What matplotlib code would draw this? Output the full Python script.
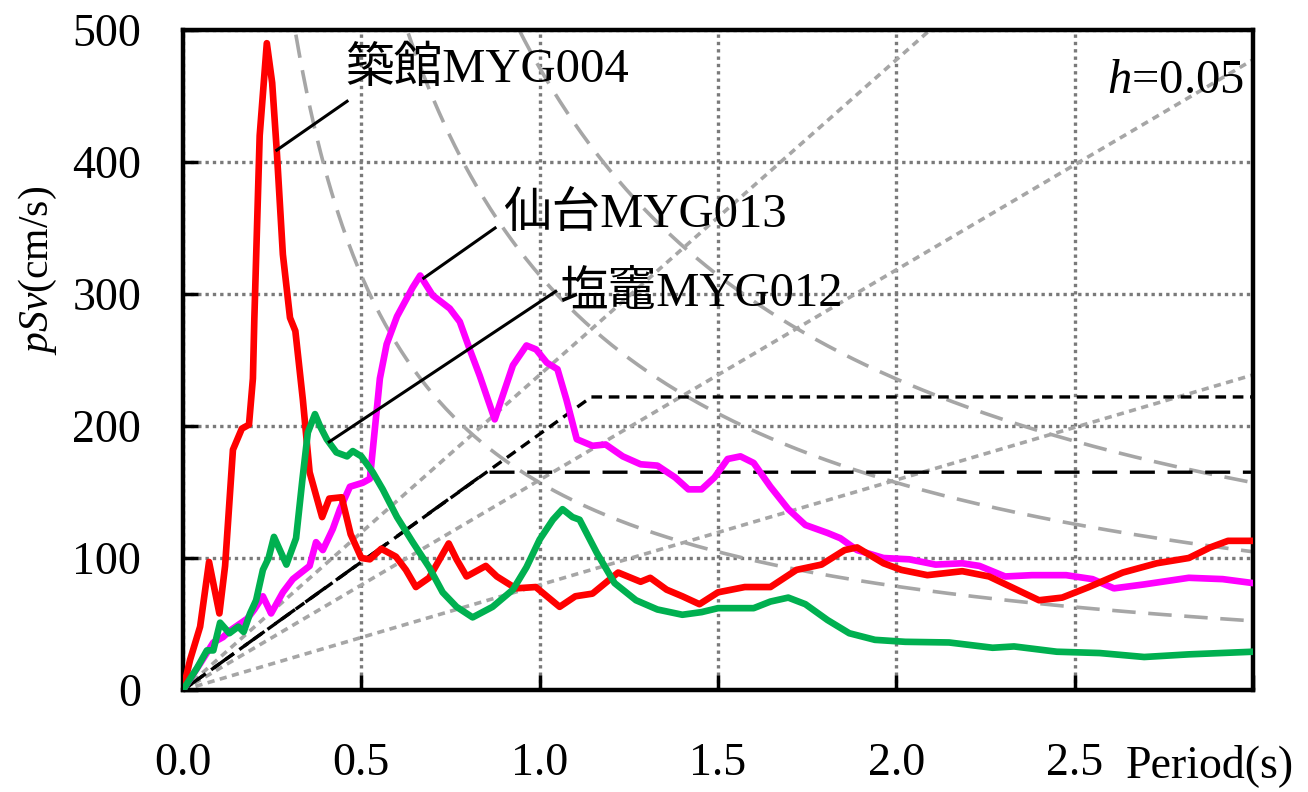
import numpy as np
import matplotlib
matplotlib.use("Agg")
import matplotlib.pyplot as plt
import matplotlib.transforms as mtransforms

plt.rcParams['font.family'] = ['Liberation Serif', 'Noto Sans CJK JP']
plt.rcParams['mathtext.fontset'] = 'custom'
plt.rcParams['mathtext.it'] = 'Liberation Serif:italic'
plt.rcParams['mathtext.rm'] = 'Liberation Serif'

# ---------------- data ----------------
red_T = [0.0, 0.02, 0.048, 0.073, 0.102, 0.118, 0.14, 0.165, 0.185, 0.196, 0.2, 0.215, 0.235,
         0.25, 0.263, 0.28, 0.30, 0.315, 0.336, 0.355, 0.39, 0.41, 0.445, 0.47, 0.5, 0.524,
         0.556, 0.597, 0.625, 0.653, 0.69, 0.745, 0.767, 0.795, 0.849, 0.88, 0.933, 0.989,
         1.056, 1.1, 1.148, 1.22, 1.283, 1.31, 1.356, 1.40, 1.448, 1.50, 1.575, 1.647, 1.72,
         1.79, 1.855, 1.89, 1.964, 2.014, 2.087, 2.185, 2.26, 2.33, 2.40, 2.465, 2.54, 2.635,
         2.73, 2.82, 2.88, 2.93, 3.0]
red_v = [0, 23, 48, 97, 58, 94, 182, 198, 201, 236, 281, 420, 490,
         460, 408, 330, 282, 272, 220, 165, 131, 145, 146, 118, 100, 99,
         107, 101, 91, 78, 85, 111, 99, 86, 94, 86, 77, 78,
         63, 71, 73, 89, 82, 85, 76, 71, 65, 74, 78, 78, 91,
         95, 106, 108, 96, 91, 87, 90, 86, 77, 68, 70, 78, 89,
         96, 100, 108, 113, 113]

mag_T = [0.0, 0.048, 0.085, 0.112, 0.132, 0.18, 0.2, 0.224, 0.247, 0.28, 0.308, 0.355, 0.373,
         0.392, 0.42, 0.44, 0.468, 0.504, 0.524, 0.552, 0.571, 0.60, 0.644, 0.665, 0.70,
         0.748, 0.776, 0.804, 0.832, 0.874, 0.90, 0.925, 0.963, 0.99, 1.02, 1.05, 1.075,
         1.104, 1.148, 1.185, 1.233, 1.283, 1.33, 1.38, 1.417, 1.454, 1.49, 1.527, 1.563,
         1.6, 1.647, 1.697, 1.745, 1.807, 1.843, 1.89, 1.964, 2.036, 2.11, 2.185, 2.233,
         2.305, 2.38, 2.476, 2.55, 2.61, 2.695, 2.82, 2.915, 3.0]
mag_v = [0, 20, 36, 40, 45, 54, 61, 71, 58, 74, 84, 94, 112,
         106, 122, 137, 154, 157, 160, 236, 262, 283, 305, 314, 299,
         289, 279, 258, 238, 205, 226, 246, 261, 258, 248, 243, 220,
         190, 185, 186, 177, 171, 170, 161, 152, 152, 161, 175, 177,
         172, 154, 137, 125, 119, 115, 106, 100, 99, 95, 96, 94,
         86, 87, 87, 84, 77, 80, 85, 84, 81]

grn_T = [0.0, 0.04, 0.067, 0.085, 0.104, 0.13, 0.155, 0.17, 0.188, 0.205, 0.224, 0.24, 0.255,
         0.29, 0.317, 0.335, 0.35, 0.37, 0.384, 0.403, 0.43, 0.46, 0.476, 0.50, 0.532, 0.56,
         0.60, 0.644, 0.69, 0.728, 0.767, 0.812, 0.868, 0.925, 0.963, 1.0, 1.037, 1.064,
         1.092, 1.112, 1.16, 1.21, 1.27, 1.33, 1.40, 1.454, 1.50, 1.6, 1.647, 1.697, 1.745,
         1.807, 1.868, 1.94, 2.025, 2.148, 2.27, 2.33, 2.45, 2.57, 2.695, 2.82, 3.0]
grn_v = [0, 17, 30, 30, 51, 43, 48, 44, 58, 68, 91, 100, 116,
         95, 115, 160, 195, 209, 200, 190, 180, 177, 181, 177, 165, 152,
         131, 112, 93, 74, 63, 55, 63, 76, 93, 114, 129, 137,
         131, 129, 104, 81, 68, 61, 57, 59, 62, 62, 67, 70, 65,
         53, 43, 38, 36.5, 36, 32, 33, 29, 28, 25, 27, 29]

# reference levels
acc_levels_gal = [500, 1000, 1500]        # constant pseudo-acceleration lines
disp_levels_cm = [25, 50, 75]             # constant displacement curves
design_corner_T = [0.85, 1.145]
design_plateau = [165, 222]

x_ticks = [0.0, 0.5, 1.0, 1.5, 2.0, 2.5, 3.0]
x_tick_labels = ['0.0', '0.5', '1.0', '1.5', '2.0', '2.5', '']
y_ticks = [0, 100, 200, 300, 400, 500]

labels = ['築館MYG004', '仙台MYG013', '塩竈MYG012']
label_pos = [(0.455, 470), (0.897, 360), (1.055, 300)]
leader_lines = [((0.263, 409), (0.46, 446)),
                ((0.675, 312), (0.875, 350)),
                ((0.41, 188), (1.045, 302))]

# ---------------- figure ----------------
fig = plt.figure(figsize=(13.08, 7.92), dpi=100)
ax = fig.add_axes([183 / 1308, 1 - 690 / 792, 1070 / 1308, 660 / 792])
ax.set_xlim(0, 3.0)
ax.set_ylim(0, 500)

ref_col = '#a6a6a6'
Tgrid = np.linspace(0.001, 3.0, 600)
for A in acc_levels_gal:
    ax.plot(Tgrid, A * Tgrid / (2 * np.pi), color=ref_col, lw=2.6,
            dashes=(2.0, 1.5), zorder=2)
for D in disp_levels_cm:
    ax.plot(Tgrid, 2 * np.pi * D / Tgrid, color=ref_col, lw=2.6,
            dashes=(6.5, 3.5), zorder=2)

# design spectra
ax.plot([0, design_corner_T[1], 3.0], [0, design_plateau[1], design_plateau[1]],
        color='black', lw=2.4, dashes=(3.2, 2.0), zorder=3)
ax.plot([0, design_corner_T[0], 3.0], [0, design_plateau[0], design_plateau[0]],
        color='black', lw=2.4, dashes=(7.5, 3.8), zorder=3)

# spectra
ax.plot(red_T, red_v, color='#ff0000', lw=4.8, zorder=5,
        solid_joinstyle='round', solid_capstyle='round')
ax.plot(mag_T, mag_v, color='#ff00ff', lw=4.8, zorder=4,
        solid_joinstyle='round', solid_capstyle='round')
ax.plot(grn_T, grn_v, color='#00b050', lw=4.8, zorder=6,
        solid_joinstyle='round', solid_capstyle='round')

# leader lines and labels
for (p0, p1), lab, pos in zip(leader_lines, labels, label_pos):
    ax.plot([p0[0], p1[0]], [p0[1], p1[1]], color='black', lw=2.2, zorder=7)
    ax.text(pos[0], pos[1], lab, fontsize=35, ha='left', va='center', zorder=8,
            family=['Liberation Serif', 'Noto Sans CJK JP'])

ax.text(2.975, 461, '$h$=0.05', fontsize=35, ha='right', va='center', zorder=8)

# grid & axes styling
ax.set_xticks(x_ticks)
ax.set_xticklabels(x_tick_labels)
ax.set_yticks(y_ticks)
ax.grid(True, color='#7a7a7a', lw=2.4, linestyle=(0, (1, 1.2)), zorder=1)
ax.set_axisbelow(True)
for s in ax.spines.values():
    s.set_linewidth(3.2)
    s.set_color('black')
ax.tick_params(axis='both', direction='in', length=11, width=2.5, labelsize=33)
ax.tick_params(axis='x', pad=38)
ax.tick_params(axis='y', pad=30)

trans = mtransforms.blended_transform_factory(ax.transData, fig.transFigure)
ax.text(2.88, 1 - 766 / 792, 'Period(s)', fontsize=33, ha='center', va='center',
        transform=trans, clip_on=False)

fig.text(38 / 1308, 1 - 270 / 792, '$pSv$(cm/s)', fontsize=30, rotation=90,
         ha='center', va='center')

fig.savefig('out.png', dpi=100)
